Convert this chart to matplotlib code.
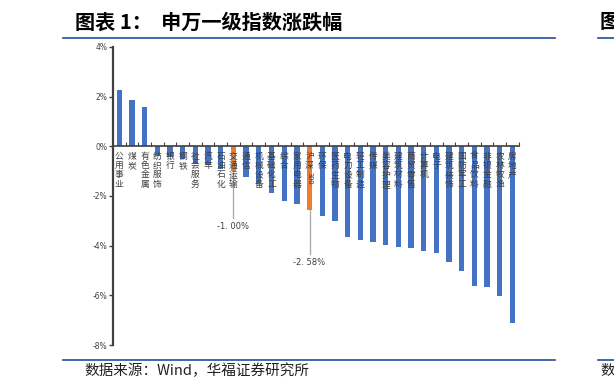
import numpy as np
import matplotlib.pyplot as plt
from matplotlib.lines import Line2D

plt.rcParams['font.family'] = ['Noto Sans CJK SC', 'DejaVu Sans']

# 申万一级行业 + 沪深300 涨跌幅(%)
names = ["公用事业", "煤炭", "有色金属", "纺织服饰", "银行", "钢铁", "社会服务", "汽车",
         "石油石化", "交通运输", "通信", "机械设备", "基础化工", "综合", "家用电器", "沪深300",
         "环保", "医药生物", "电力设备", "轻工制造", "传媒", "美容护理", "建筑材料", "商贸零售",
         "计算机", "电子", "建筑装饰", "国防军工", "食品饮料", "非银金融", "农林牧渔", "房地产"]
values = [2.26, 1.88, 1.57, -0.40, -0.42, -0.52, -0.70, -0.75,
          -0.90, -1.00, -1.25, -1.50, -1.88, -2.22, -2.31, -2.58,
          -2.79, -3.01, -3.64, -3.79, -3.86, -3.96, -4.07, -4.10,
          -4.20, -4.30, -4.65, -5.01, -5.64, -5.68, -6.02, -7.12]
highlight = ["交通运输", "沪深300"]
yticks = [4, 2, 0, -2, -4, -6, -8]

blue = "#4472C4"
orange = "#ED7D31"
colors = [orange if n in highlight else blue for n in names]

fig = plt.figure(figsize=(6.14, 3.91), dpi=100)
ax = fig.add_axes([0.184, 0.1176, 0.661, 0.7624])

x = np.arange(len(names))
ax.bar(x, values, width=0.42, color=colors, zorder=2)

ax.set_xlim(-0.5, len(names) - 0.5)
ax.set_ylim(-8, 4)
ax.set_yticks(yticks)
ax.set_yticklabels([f"{t}%" for t in yticks], fontsize=5.5, color="#404040",
                   family=['DejaVu Sans'])
ax.tick_params(axis='y', length=3, width=1, color="#404040", pad=1)

for s in ["top", "right"]:
    ax.spines[s].set_visible(False)
ax.spines["left"].set_linewidth(1.6)
ax.spines["left"].set_color("#404040")
ax.spines["bottom"].set_position(("data", 0))
ax.spines["bottom"].set_linewidth(1.2)
ax.spines["bottom"].set_color("#404040")
ax.set_xticks(np.arange(len(names) + 1) - 0.5)
ax.set_xticklabels([])
ax.tick_params(axis='x', length=3, width=0.8, color="#404040", direction='in')

# 零轴下方竖排行业名
for i, n in enumerate(names):
    if n == "沪深300":
        ax.text(i, -0.22, "沪\n深", ha='center', va='top', fontsize=6.3,
                color="#404040", linespacing=1.05, zorder=3)
        ax.text(i, -1.05, "300", ha='center', va='top', fontsize=5.5,
                color="#404040", rotation=-90, zorder=3)
    else:
        ax.text(i, -0.22, "\n".join(n), ha='center', va='top', fontsize=6.3,
                color="#404040", linespacing=1.05, zorder=3)

# 标注
for n, end in [("交通运输", -2.9), ("沪深300", -4.35)]:
    i = names.index(n)
    v = values[i]
    ax.plot([i, i], [v, end], color="#A6A6A6", lw=0.9, zorder=1)
    ax.text(i, end - 0.15, f"-{abs(v):.2f}%".replace(".", ". "), ha='center', va='top',
            fontsize=6, color="#404040", family=['DejaVu Sans'])

# 标题和分隔线
fig.text(0.122, 0.944, "图表 1：  申万一级指数涨跌幅", fontsize=14.5, fontweight='bold',
         ha='left', va='center', color="black")
fig.text(0.976, 0.944, "图", fontsize=14.5, fontweight='bold', ha='left', va='center')
line_c = "#1F4E9A"
fig.add_artist(Line2D([0.1026, 0.904], [0.903, 0.903], color=line_c, lw=1.2))
fig.add_artist(Line2D([0.974, 1.0], [0.903, 0.903], color=line_c, lw=1.2))
fig.add_artist(Line2D([0.1026, 0.904], [0.079, 0.079], color=line_c, lw=1.2))
fig.add_artist(Line2D([0.974, 1.0], [0.079, 0.079], color=line_c, lw=1.2))
fig.text(0.138, 0.051, "数据来源：Wind，华福证券研究所", fontsize=10.5, ha='left', va='center',
         color="#222222")
fig.text(0.978, 0.051, "数", fontsize=10.5, ha='left', va='center', color="#222222")

plt.savefig("out.png", dpi=100)
